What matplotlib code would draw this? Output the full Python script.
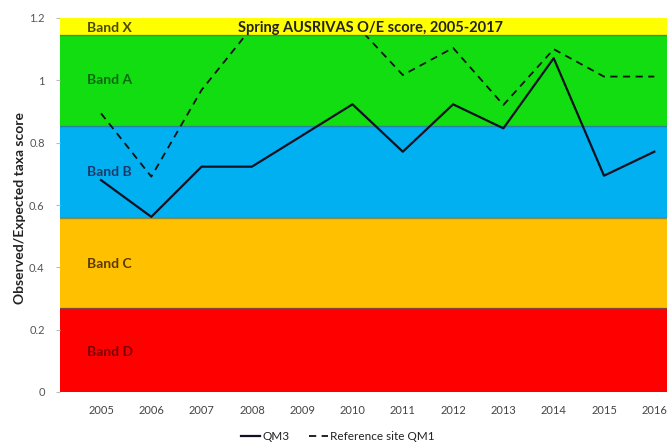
import matplotlib
matplotlib.use("Agg")
import matplotlib.pyplot as plt

years = [2005, 2006, 2007, 2008, 2009, 2010, 2011, 2012, 2013, 2014, 2015, 2016]
qm3 = [0.68, 0.562, 0.723, 0.723, 0.823, 0.923, 0.771, 0.923, 0.846, 1.071, 0.694, 0.771]
ref_qm1 = [0.894, 0.691, 0.969, 1.17, 1.18, 1.19, 1.017, 1.104, 0.921, 1.10, 1.012, 1.012]
tick_years = [2005, 2006, 2007, 2008, 2009, 2010, 2011, 2012, 2013, 2014, 2015, 2016, 2017]
y_ticks = [0, 0.2, 0.4, 0.6, 0.8, 1, 1.2]
y_tick_labels = ["0", "0.2", "0.4", "0.6", "0.8", "1", "1.2"]
band_names = ["Band D", "Band C", "Band B", "Band A", "Band X"]
band_edges = [0.0, 0.27, 0.558, 0.853, 1.145, 1.2]
band_colors = ["#FF0000", "#FFC000", "#00B0F0", "#11DD11", "#FFFF00"]
band_text_colors = ["#7a0000", "#5a3a00", "#1d3a6a", "#0a6a0a", "#4a4a00"]
band_label_pos = [0.128, 0.41, 0.705, 1.0, 1.168]

plt.rcParams['font.family'] = ['Lato', 'DejaVu Sans']

fig = plt.figure(figsize=(6.67, 4.45), dpi=100)
ax = fig.add_axes([60/667, 53/445, 670/667, 374/445])

for i, name in enumerate(band_names):
    lo, hi = band_edges[i], band_edges[i+1]
    z = 5 if name == "Band X" else 0
    ax.axhspan(lo, hi, color=band_colors[i], zorder=z, lw=0)
    if i > 0:
        ax.axhline(lo, color="#3a6a6a", lw=1.0, alpha=0.6, zorder=z+0.5)
    ax.text(2004.73, band_label_pos[i], name, fontsize=10, fontweight="bold",
            color=band_text_colors[i], va="center", ha="left", zorder=6)

ax.plot(years, qm3, color="#111122", lw=1.6, zorder=3, label="QM3")
ax.plot(years, ref_qm1, color="#111111", lw=1.3, ls=(0, (4, 3)), zorder=3,
        label="Reference site QM1")

ax.text(2010.35, 1.168, "Spring AUSRIVAS O/E score, 2005-2017", fontsize=10.5,
        fontweight="bold", color="#222222", ha="center", va="center", zorder=7)

ax.set_xlim(2005 - 41/50.3, 2005 - 41/50.3 + 670/50.3)
ax.set_ylim(0, 1.2)
ax.set_xticks(tick_years)
ax.set_xticklabels([str(y) for y in tick_years])
ax.set_yticks(y_ticks)
ax.set_yticklabels(y_tick_labels)
ax.tick_params(axis="x", length=0, labelsize=8, labelcolor="#444444", pad=9)
ax.tick_params(axis="y", length=3, color="#bbbbbb", labelsize=8, labelcolor="#555555", pad=8)
for s in ax.spines.values():
    s.set_visible(False)

fig.text(20/667, 1 - 208/445, "Observed/Expected taxa score", rotation=90,
         fontsize=10, fontweight="bold", color="#222222", ha="center", va="center")

fig.legend(loc="center", bbox_to_anchor=(338/667, 1 - 437/445), ncol=2, frameon=False,
           fontsize=8.5, handlelength=1.6, columnspacing=1.6, handletextpad=0.2,
           labelcolor="#222222")

fig.savefig("out.png", dpi=100)
